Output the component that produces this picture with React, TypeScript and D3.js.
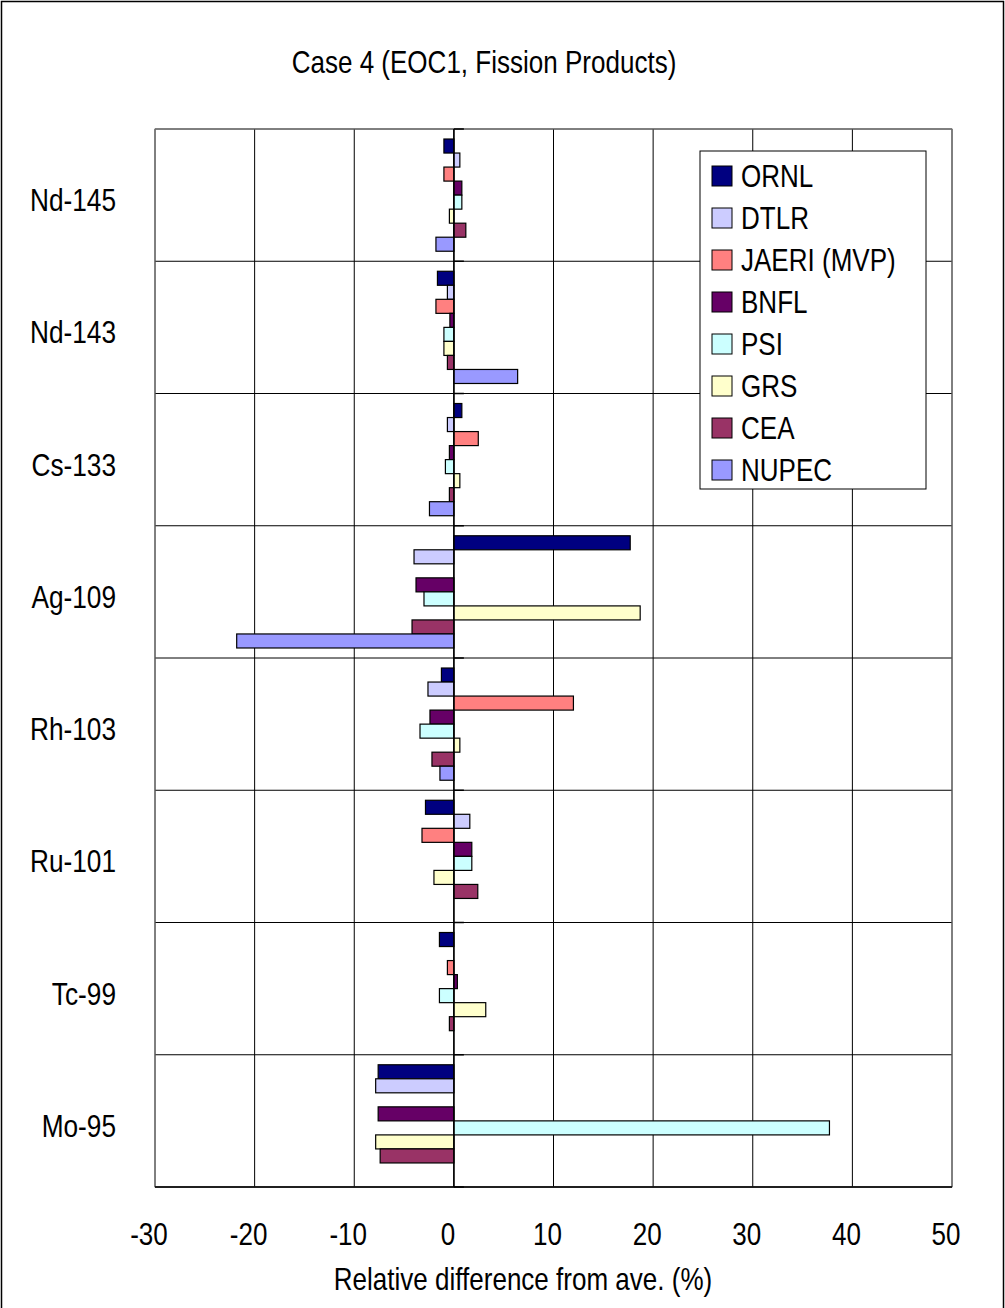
import React from "react";
import * as d3 from "d3";

const categories = ["Nd-145", "Nd-143", "Cs-133", "Ag-109", "Rh-103", "Ru-101", "Tc-99", "Mo-95"];
const seriesNames = ["ORNL", "DTLR", "JAERI (MVP)", "BNFL", "PSI", "GRS", "CEA", "NUPEC"];
const seriesColors = ["#000080", "#CCCCFF", "#FF8080", "#660066", "#CCFFFF", "#FFFFCC", "#993366", "#9999FF"];

const ornl = [-1.0, -1.65, 0.8, 17.7, -1.25, -2.85, -1.45, -7.6];
const dtlr = [0.6, -0.65, -0.65, -4.0, -2.6, 1.6, null, -7.85];
const jaeri = [-1.0, -1.8, 2.45, null, 12.0, -3.2, -0.65, null];
const bnfl = [0.8, -0.4, -0.45, -3.8, -2.4, 1.8, 0.35, -7.6];
const psi = [0.8, -1.0, -0.85, -3.0, -3.4, 1.8, -1.45, 37.7];
const grs = [-0.45, -1.0, 0.6, 18.7, 0.6, -2.0, 3.2, -7.85];
const cea = [1.2, -0.65, -0.45, -4.2, -2.2, 2.4, -0.45, -7.4];
const nupec = [-1.8, 6.4, -2.45, -21.8, -1.4, null, null, null];

const seriesValues: (number | null)[][] = [ornl, dtlr, jaeri, bnfl, psi, grs, cea, nupec];
const xTicks = [-30, -20, -10, 0, 10, 20, 30, 40, 50];

const title = "Case 4 (EOC1, Fission Products)";
const xTitle = "Relative difference from ave. (%)";

const W = 1005;
const H = 1308;
const plot = { left: 155, right: 952, top: 129, bottom: 1187 };
const FONT = "'Liberation Sans', Arial, sans-serif";

function NText(props: {
  x: number;
  y: number;
  anchor?: "start" | "middle" | "end";
  size?: number;
  sx?: number;
  children: React.ReactNode;
}) {
  const { x, y, anchor = "start", size = 31, sx = 0.84, children } = props;
  return (
    <text
      transform={`translate(${x},${y}) scale(${sx},1)`}
      fontSize={size}
      textAnchor={anchor}
      dominantBaseline="central"
      fill="#000"
    >
      {children}
    </text>
  );
}

export default function App() {
  const x = d3.scaleLinear().domain([-30, 50]).range([plot.left, plot.right]);
  const y = d3.scaleBand<string>().domain(categories).range([plot.top, plot.bottom]).padding(0);
  const inner = d3
    .scaleBand<string>()
    .domain(seriesNames)
    .range([0, y.bandwidth()])
    .paddingInner(0)
    .paddingOuter(0.714);

  const bars: React.ReactNode[] = [];
  seriesNames.forEach((s, si) => {
    seriesValues[si].forEach((v, ci) => {
      if (v === null || v === undefined) return;
      const y0 = (y(categories[ci]) as number) + (inner(s) as number);
      const x0 = Math.min(x(0), x(v));
      const w = Math.abs(x(v) - x(0));
      bars.push(
        <rect
          key={`${si}-${ci}`}
          x={x0}
          y={y0}
          width={w}
          height={inner.bandwidth()}
          fill={seriesColors[si]}
          stroke="#000"
          strokeWidth={1.2}
        />
      );
    });
  });

  const boundaries = [...categories.map((c) => y(c) as number), plot.bottom];

  const legend = { x: 700, y: 151, w: 226, h: 338 };
  const legendRow = 42;

  return (
    <div style={{ position: "absolute", left: 0, top: 0 }}>
      <svg width={W} height={H} style={{ display: "block", fontFamily: FONT }}>
        <rect x={0} y={0} width={W} height={H} fill="#fff" />
        <rect x={1.5} y={1.5} width={W - 3} height={H + 20} fill="none" stroke="#000" strokeWidth={1.5} />
        <NText x={484} y={62} anchor="middle">
          {title}
        </NText>

        {/* vertical grid */}
        {xTicks.map((t) => (
          <line key={`g${t}`} x1={x(t)} x2={x(t)} y1={plot.top} y2={plot.bottom} stroke="#000" strokeWidth={1} />
        ))}
        {/* horizontal grid */}
        {boundaries.map((b, i) => (
          <line key={`h${i}`} x1={plot.left} x2={plot.right} y1={b} y2={b} stroke="#000" strokeWidth={1} />
        ))}
        <rect
          x={plot.left}
          y={plot.top}
          width={plot.right - plot.left}
          height={plot.bottom - plot.top}
          fill="none"
          stroke="#808080"
          strokeWidth={1}
        />
        {/* bottom axis line */}
        <line x1={plot.left} x2={plot.right} y1={plot.bottom} y2={plot.bottom} stroke="#000" strokeWidth={1.5} />

        {bars}

        {/* category axis at zero */}
        <line x1={x(0)} x2={x(0)} y1={plot.top} y2={plot.bottom} stroke="#000" strokeWidth={1.5} />
        {boundaries.map((b, i) => (
          <line key={`t${i}`} x1={x(0)} x2={x(0) + 10} y1={b} y2={b} stroke="#000" strokeWidth={1.5} />
        ))}

        {/* category labels */}
        {categories.map((c) => (
          <NText key={c} x={116} y={(y(c) as number) + y.bandwidth() / 2 + 5} anchor="end" size={32} sx={0.82}>
            {c}
          </NText>
        ))}

        {/* x tick labels */}
        {xTicks.map((t) => (
          <NText key={`l${t}`} x={x(t) - 6} y={1234} anchor="middle">
            {t}
          </NText>
        ))}
        <NText x={523} y={1279} anchor="middle">
          {xTitle}
        </NText>

        {/* legend */}
        <rect x={legend.x} y={legend.y} width={legend.w} height={legend.h} fill="#fff" stroke="#000" strokeWidth={1} />
        {seriesNames.map((s, i) => (
          <g key={s}>
            <rect
              x={712}
              y={166 + i * legendRow}
              width={20}
              height={20}
              fill={seriesColors[i]}
              stroke="#000"
              strokeWidth={1}
            />
            <NText x={741} y={176 + i * legendRow}>
              {s}
            </NText>
          </g>
        ))}
      </svg>
    </div>
  );
}
